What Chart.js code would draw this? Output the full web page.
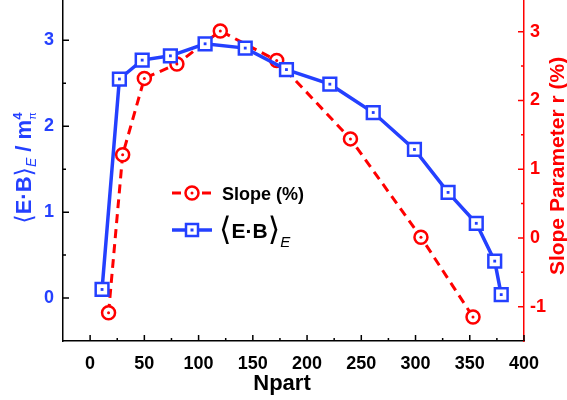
<!DOCTYPE html>
<html>
<head>
<meta charset="utf-8">
<script src="https://cdn.jsdelivr.net/npm/chart.js@4.4.0/dist/chart.umd.min.js"></script>
<style>
  html, body { margin: 0; padding: 0; background: #fff; }
  #wrap { width: 567px; height: 400px; }
</style>
</head>
<body>
<div id="wrap"><canvas id="chart" width="567" height="400"></canvas></div>
<script>
// <E.B>_E values vs Npart (left axis)
const ebNpart  = [11, 27, 48, 74, 106, 143, 181, 221, 261, 299, 330, 356, 373, 379];
const ebValues = [0.10, 2.55, 2.77, 2.82, 2.96, 2.91, 2.66, 2.49, 2.16, 1.73, 1.23, 0.87, 0.43, 0.04];

// slope parameter r (%) vs Npart (right axis)
const slopeNpart  = [17, 30, 50, 80, 120, 172, 240, 305, 353];
const slopeValues = [-1.09, 1.21, 2.32, 2.53, 3.01, 2.58, 1.44, 0.01, -1.15];

// tick labels
const xTicks = [0, 50, 100, 150, 200, 250, 300, 350, 400];
const xMinor = [25, 75, 125, 175, 225, 275, 325, 375];
const yTicks = [0, 1, 2, 3];
const yMinor = [0.5, 1.5, 2.5];
const y2Ticks = [-1, 0, 1, 2, 3];
const y2Minor = [-0.5, 0.5, 1.5, 2.5];

const BLUE = 'rgb(36,64,255)';
const RED = 'rgb(255,0,0)';
const FONT = 'Arial, "Liberation Sans", sans-serif';

function pts(xs, ys) {
    return xs.map((x, i) => ({ x: x, y: ys[i] }));
}

// draw a row of text pieces; each piece: [text, font, color, dy, noAdvance]
function drawRuns(ctx, runs, x, y) {
    let cx = x;
    runs.forEach(r => {
        ctx.font = r[1];
        ctx.fillStyle = r[2];
        ctx.fillText(r[0], cx, y + (r[3] || 0));
        if (!r[4]) cx += ctx.measureText(r[0]).width;
    });
}
function runsWidth(ctx, runs) {
    let w = 0;
    runs.forEach(r => { ctx.font = r[1]; if (!r[4]) w += ctx.measureText(r[0]).width; });
    return w;
}

// inward tick marks, axis titles and the legend
const decor = {
    id: 'decor',
    afterDraw(chart) {
        const ctx = chart.ctx;
        const x = chart.scales.x, y = chart.scales.y, y2 = chart.scales.y2;
        const a = chart.chartArea;
        ctx.save();
        ctx.lineWidth = 1.5;

        ctx.strokeStyle = '#000';
        ctx.beginPath();
        xTicks.forEach(v => { const p = x.getPixelForValue(v); ctx.moveTo(p, a.bottom); ctx.lineTo(p, a.bottom - 6); });
        xMinor.forEach(v => { const p = x.getPixelForValue(v); ctx.moveTo(p, a.bottom); ctx.lineTo(p, a.bottom - 3); });
        yTicks.forEach(v => { const p = y.getPixelForValue(v); ctx.moveTo(a.left, p); ctx.lineTo(a.left + 6, p); });
        yMinor.forEach(v => { const p = y.getPixelForValue(v); ctx.moveTo(a.left, p); ctx.lineTo(a.left + 3, p); });
        ctx.stroke();

        ctx.strokeStyle = RED;
        ctx.beginPath();
        y2Ticks.forEach(v => { const p = y2.getPixelForValue(v); ctx.moveTo(a.right, p); ctx.lineTo(a.right - 6, p); });
        y2Minor.forEach(v => { const p = y2.getPixelForValue(v); ctx.moveTo(a.right, p); ctx.lineTo(a.right - 3, p); });
        ctx.stroke();

        ctx.textBaseline = 'alphabetic';

        // x title
        ctx.font = 'bold 22px ' + FONT;
        ctx.fillStyle = '#000';
        ctx.textAlign = 'center';
        ctx.fillText('Npart', 282, 390);
        ctx.textAlign = 'left';

        // left title  <E.B>_E / m_pi^4
        const leftRuns = [
            ['\u27E8', '24px "DejaVu Sans"', BLUE, 1],
            ['E\u00B7B', 'bold 22px ' + FONT, BLUE, 0],
            ['\u27E9', '24px "DejaVu Sans"', BLUE, 1],
            ['E', 'italic 14px ' + FONT, BLUE, 5],
            [' / m', 'bold 22px ' + FONT, BLUE, 0],
            ['4', 'bold 13px ' + FONT, BLUE, -9, true],
            ['\u03C0', '11px ' + FONT, BLUE, 5]
        ];
        ctx.save();
        ctx.translate(31, 168);
        ctx.rotate(-Math.PI / 2);
        drawRuns(ctx, leftRuns, -runsWidth(ctx, leftRuns) / 2, 0);
        ctx.restore();

        // right title
        ctx.save();
        ctx.translate(564, 166);
        ctx.rotate(-Math.PI / 2);
        ctx.font = 'bold 21px ' + FONT;
        ctx.fillStyle = RED;
        ctx.textAlign = 'center';
        ctx.fillText('Slope Parameter r (%)', 0, 0);
        ctx.restore();

        // legend
        const ly1 = 193, ly2 = 230;
        ctx.strokeStyle = RED;
        ctx.lineWidth = 3;
        ctx.setLineDash([9, 6]);
        ctx.beginPath(); ctx.moveTo(172, ly1); ctx.lineTo(212, ly1); ctx.stroke();
        ctx.setLineDash([]);
        ctx.lineWidth = 2.5;
        ctx.fillStyle = '#fff';
        ctx.beginPath(); ctx.arc(192, ly1, 6.5, 0, Math.PI * 2); ctx.fill(); ctx.stroke();
        ctx.fillStyle = RED;
        ctx.beginPath(); ctx.arc(192, ly1, 1.5, 0, Math.PI * 2); ctx.fill();
        ctx.font = 'bold 18px ' + FONT;
        ctx.fillStyle = '#000';
        ctx.fillText('Slope (%)', 222, ly1 + 6.5);

        ctx.strokeStyle = BLUE;
        ctx.lineWidth = 3.5;
        ctx.beginPath(); ctx.moveTo(172, ly2); ctx.lineTo(212, ly2); ctx.stroke();
        ctx.lineWidth = 2.5;
        ctx.fillStyle = '#fff';
        ctx.fillRect(186, ly2 - 6, 12, 12);
        ctx.strokeRect(186, ly2 - 6, 12, 12);
        ctx.fillStyle = BLUE;
        ctx.fillRect(190.5, ly2 - 1.5, 3, 3);
        drawRuns(ctx, [
            ['\u27E8', '32px "DejaVu Sans"', '#000', 2],
            ['E\u00B7B', 'bold 21px ' + FONT, '#000', 0],
            ['\u27E9', '32px "DejaVu Sans"', '#000', 2],
            ['E', 'italic 15px ' + FONT, '#000', 9]
        ], 219, ly2 + 7.5);

        ctx.restore();
    }
};

function noPad(s) {
    s.paddingTop = 0; s.paddingBottom = 0; s.paddingLeft = 0; s.paddingRight = 0;
}

new Chart(document.getElementById('chart'), {
    type: 'scatter',
    data: {
        datasets: [
            {
                label: 'eb dots',
                data: pts(ebNpart, ebValues),
                yAxisID: 'y',
                showLine: false,
                pointStyle: 'rect',
                pointRadius: 2,
                pointBorderWidth: 0,
                pointBackgroundColor: BLUE
            },
            {
                label: 'slope dots',
                data: pts(slopeNpart, slopeValues),
                yAxisID: 'y2',
                showLine: false,
                pointStyle: 'circle',
                pointRadius: 1.5,
                pointBorderWidth: 0,
                pointBackgroundColor: RED
            },
            {
                label: '<E.B>_E',
                data: pts(ebNpart, ebValues),
                yAxisID: 'y',
                showLine: true,
                borderColor: BLUE,
                borderWidth: 3.5,
                pointStyle: 'rect',
                pointRadius: 9,
                pointBorderWidth: 2.5,
                pointBorderColor: BLUE,
                pointBackgroundColor: '#fff'
            },
            {
                label: 'Slope (%)',
                data: pts(slopeNpart, slopeValues),
                yAxisID: 'y2',
                showLine: true,
                borderColor: RED,
                borderWidth: 3,
                borderDash: [9, 6],
                pointStyle: 'circle',
                pointRadius: 6.5,
                pointBorderWidth: 2.5,
                pointBorderColor: RED,
                pointBackgroundColor: '#fff'
            }
        ]
    },
    options: {
        responsive: false,
        animation: false,
        layout: { padding: 0, autoPadding: false },
        plugins: { legend: { display: false }, tooltip: { enabled: false } },
        scales: {
            x: {
                type: 'linear', position: 'bottom', min: -25, max: 400,
                afterBuildTicks: s => { s.ticks = xTicks.map(v => ({ value: v })); },
                afterFit: s => { s.height = 59; noPad(s); },
                grid: { display: false, drawTicks: false },
                border: { color: '#000', width: 1.5 },
                ticks: { color: '#000', padding: 12, maxRotation: 0, autoSkip: false,
                         font: { family: FONT, size: 18, weight: 'bold' } }
            },
            y: {
                type: 'linear', position: 'left', min: -0.5, max: 3.47,
                afterBuildTicks: s => { s.ticks = yTicks.map(v => ({ value: v })); },
                afterFit: s => { s.width = 63; noPad(s); },
                grid: { display: false, drawTicks: false },
                border: { color: '#000', width: 1.5 },
                ticks: { color: BLUE, padding: 9,
                         font: { family: FONT, size: 18, weight: 'bold' } }
            },
            y2: {
                type: 'linear', position: 'right', min: -1.5, max: 3.46,
                afterBuildTicks: s => { s.ticks = y2Ticks.map(v => ({ value: v })); },
                afterFit: s => { s.width = 43; noPad(s); },
                grid: { display: false, drawTicks: false },
                border: { color: RED, width: 1.5 },
                ticks: { color: RED, padding: 6,
                         font: { family: FONT, size: 18, weight: 'bold' } }
            }
        }
    },
    plugins: [decor]
});
</script>
</body>
</html>
